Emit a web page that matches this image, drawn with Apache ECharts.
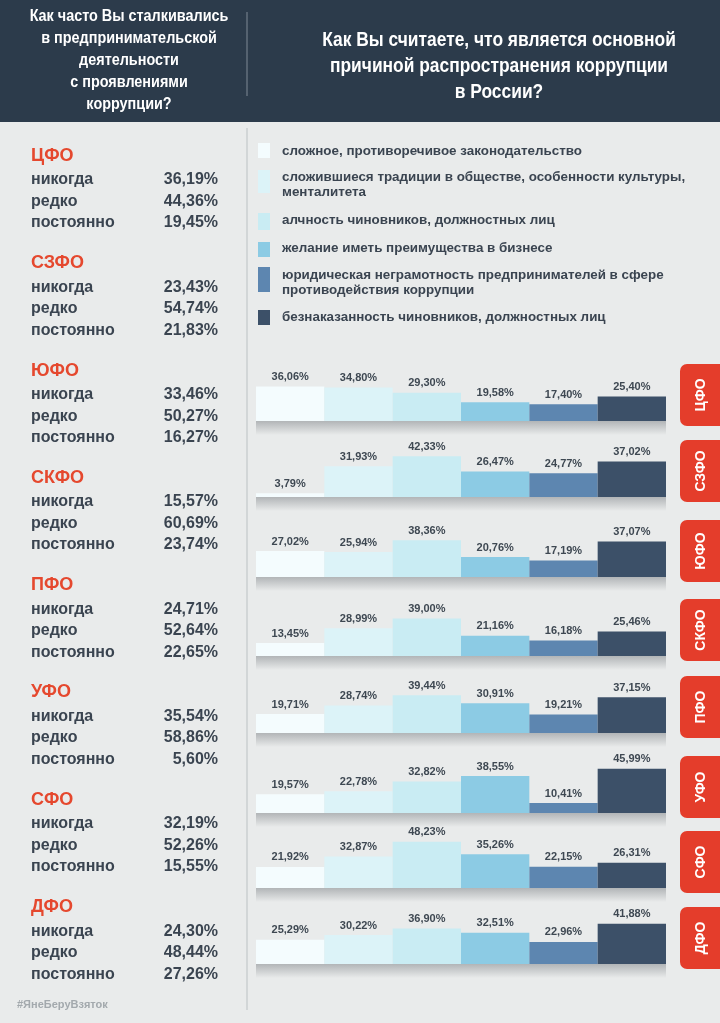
<!DOCTYPE html>
<html><head><meta charset="utf-8">
<script src="https://cdn.jsdelivr.net/npm/echarts@6/dist/echarts.min.js"></script>
<style>html,body{margin:0;padding:0;background:#e9ebeb}#c{width:720px;height:1023px}</style>
</head><body><div id="c"></div>
<script>
const regions = ['ЦФО','СЗФО','ЮФО','СКФО','ПФО','УФО','СФО','ДФО'];
const freqLabels = ['никогда','редко','постоянно'];
const never = [36.19,23.43,33.46,15.57,24.71,35.54,32.19,24.30];
const rarely = [44.36,54.74,50.27,60.69,52.64,58.86,52.26,48.44];
const constantly = [19.45,21.83,16.27,23.74,22.65,5.60,15.55,27.26];
const causes = [
  'сложное, противоречивое законодательство',
  'сложившиеся традиции в обществе, особенности культуры,\nменталитета',
  'алчность чиновников, должностных лиц',
  'желание иметь преимущества в бизнесе',
  'юридическая неграмотность предпринимателей в сфере\nпротиводействия коррупции',
  'безнаказанность чиновников, должностных лиц'
];
const causeColors = ['#f4fcfe','#dcf3f8','#c9ecf3','#8ccbe4','#5d86b0','#3c5068'];
const cfo  = [36.06,34.80,29.30,19.58,17.40,25.40];
const szfo = [3.79,31.93,42.33,26.47,24.77,37.02];
const yufo = [27.02,25.94,38.36,20.76,17.19,37.07];
const skfo = [13.45,28.99,39.00,21.16,16.18,25.46];
const pfo  = [19.71,28.74,39.44,30.91,19.21,37.15];
const ufo  = [19.57,22.78,32.82,38.55,10.41,45.99];
const sfo  = [21.92,32.87,48.23,35.26,22.15,26.31];
const dfo  = [25.29,30.22,36.90,32.51,22.96,41.88];
const causeValues = [cfo, szfo, yufo, skfo, pfo, ufo, sfo, dfo];

const FONT = "'Liberation Sans', Arial, sans-serif";
const DARK = '#3a4450';
const RED = '#e5482e';
const fmt = v => v.toFixed(2).replace('.', ',') + '%';

const baselines = [421, 497, 577, 656, 733, 813, 888, 964];
const gridH = 48;

const chart = echarts.init(document.getElementById('c'));
const graphic = [];

// header
graphic.push({type:'rect', shape:{x:0,y:0,width:720,height:122}, style:{fill:'#2c3b4b'}, z:0});
graphic.push({type:'line', shape:{x1:247,y1:12,x2:247,y2:96}, style:{stroke:'#7f8a96',lineWidth:1}});
const leftTitle = ['Как часто Вы сталкивались','в предпринимательской','деятельности','с проявлениями','коррупции?'];
leftTitle.forEach((t,i)=>graphic.push({type:'text', x:129, y:17+i*21.8, scaleX:0.9,
  style:{text:t, x:0, y:0, textAlign:'center', textVerticalAlign:'middle', fill:'#fff', font:"bold 16px "+FONT}}));
const rightTitle = ['Как Вы считаете, что является основной','причиной распространения коррупции','в России?'];
rightTitle.forEach((t,i)=>graphic.push({type:'text', x:499, y:40+i*26, scaleX:0.87,
  style:{text:t, x:0, y:0, textAlign:'center', textVerticalAlign:'middle', fill:'#fff', font:"bold 20px "+FONT}}));

// left divider
graphic.push({type:'line', shape:{x1:247,y1:128,x2:247,y2:1010}, style:{stroke:'#c3c8ca',lineWidth:1.2}});

// left lists
regions.forEach((r,i)=>{
  const y0 = 156 + i*107.3;
  graphic.push({type:'text', style:{text:r, x:31, y:y0, textVerticalAlign:'middle', fill:RED, font:"bold 18px "+FONT}});
  const vals = [never[i], rarely[i], constantly[i]];
  freqLabels.forEach((f,j)=>{
    const y = y0 + 24 + j*21.5;
    graphic.push({type:'text', style:{text:f, x:31, y:y, textVerticalAlign:'middle', fill:DARK, font:"bold 16px "+FONT}});
    graphic.push({type:'text', style:{text:fmt(vals[j]), x:218, y:y, textAlign:'right', textVerticalAlign:'middle', fill:DARK, font:"bold 16px "+FONT}});
  });
});
graphic.push({type:'text', style:{text:'#ЯнеБеруВзяток', x:17, y:1005, textVerticalAlign:'middle', fill:'#a3a9ad', font:"bold 11px "+FONT}});

// legend
const legendRows = [
  {sq:[143,158], ty:151},
  {sq:[170,193], ty:185},
  {sq:[213,230], ty:220},
  {sq:[242,257], ty:248},
  {sq:[267,292], ty:283},
  {sq:[310,325], ty:317}
];
causes.forEach((c,i)=>{
  const L = legendRows[i];
  graphic.push({type:'rect', shape:{x:258,y:L.sq[0],width:12,height:L.sq[1]-L.sq[0]}, style:{fill:causeColors[i]}});
  graphic.push({type:'text', style:{text:c, x:282, y:L.ty, textVerticalAlign:'middle', fill:DARK, font:"bold 13.4px "+FONT, lineHeight:15}});
});

// shadows and tabs
baselines.forEach((b,i)=>{
  graphic.push({type:'rect', shape:{x:256,y:b,width:410,height:14}, z:0,
    style:{fill:new echarts.graphic.LinearGradient(0,0,0,1,[{offset:0,color:'rgba(110,115,120,0.45)'},{offset:1,color:'rgba(110,115,120,0)'}])}});
  graphic.push({type:'rect', shape:{x:680,y:b-57,width:44,height:62,r:[7,0,0,7]}, style:{fill:'#e43d2b'}});
  graphic.push({type:'text', x:701, y:b-26, rotation:Math.PI/2,
    style:{text:regions[i], x:0, y:0, textAlign:'center', textVerticalAlign:'middle', fill:'#fff', font:"bold 14px "+FONT}});
});

const grids=[], xAxes=[], yAxes=[], series=[];
causeValues.forEach((vals,i)=>{
  grids.push({left:256, width:410, top:baselines[i]-gridH, height:gridH});
  xAxes.push({type:'category', gridIndex:i, data:causes, show:false});
  yAxes.push({type:'value', gridIndex:i, min:0, max:50, show:false});
  series.push({type:'bar', xAxisIndex:i, yAxisIndex:i, barWidth:'100%', barCategoryGap:'0%',
    data: vals.map((v,k)=>({value:v, itemStyle:{color:causeColors[k]}})),
    label:{show:true, position:'top', distance:4, formatter:p=>fmt(p.value), color:'#3e4852', fontWeight:'bold', fontSize:11, fontFamily:FONT},
    z:3, animation:false});
});

chart.setOption({
  backgroundColor:'#e9ebeb',
  animation:false,
  grid:grids, xAxis:xAxes, yAxis:yAxes, series:series,
  graphic:graphic
});
</script></body></html>
